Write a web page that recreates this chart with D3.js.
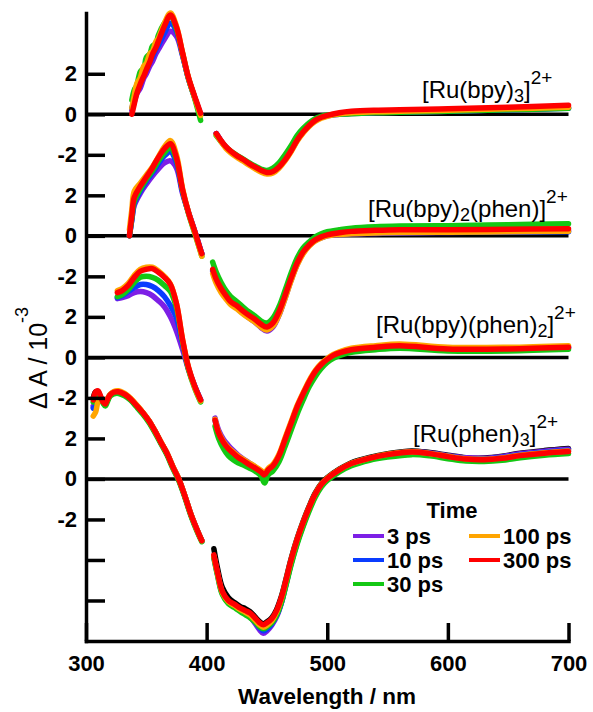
<!DOCTYPE html>
<html>
<head>
<meta charset="utf-8">
<script src="https://cdn.jsdelivr.net/npm/d3@7"></script>
<style>
  html, body { margin: 0; padding: 0; background: #fff; }
  svg { display: block; font-family: "Liberation Sans", Arial, Helvetica, sans-serif; }
</style>
</head>
<body>
<svg id="chart" width="593" height="712"></svg>
<script>
// ---- Transient absorption spectra, four Ru(II) complexes, stacked with offsets ----

const timeLabels = ["3 ps", "10 ps", "30 ps", "100 ps", "300 ps"];
const timeColors = ["#7d1fe6", "#0a3cff", "#14c814", "#ffa500", "#ff0000"];

// vertical offsets of the stacked spectra (units of 10^-3)
const panelOffsets = [18, 12, 6, 0];

const xTicks = [300, 400, 500, 600, 700];
const yTicks = [-6, -4, -2, 0, 2, 4, 6, 8, 10, 12, 14, 16, 18, 20];
const yTickLabels = ["", "", "-2", "0", "2", "-2", "0", "2", "-2", "0", "2", "-2", "0", "2"];

// [Ru(bpy)3]2+ ; null marks the scatter gap around the pump wavelength
const wlBpy3 = [338, 340, 342, 345, 348, 350, 353, 355, 358, 360, 365, 370, 375, 380, 385, 390, 395, 400,
  408, 412, 416, 420, 425, 430, 435, 440, 445, 450, 455, 460, 465, 470, 475, 480, 485, 490, 495, 500,
  510, 520, 540, 560, 600, 650, 700];
const bpy3_3ps = [0.2, 0.6, 1.0, 1.3, 1.8, 2.0, 2.4, 2.6, 3.0, 3.2, 3.7, 4.1, 3.85, 2.9, 1.75, 0.85, 0.0, null,
  -0.95, -1.32, -1.62, -1.85, -2.06, -2.25, -2.45, -2.62, -2.77, -2.85, -2.8, -2.6, -2.24, -1.8, -1.28, -0.88, -0.56, -0.31, -0.16, -0.07,
  0.0, 0.04, 0.08, 0.1, 0.15, 0.22, 0.32];
const bpy3_10ps = [0.3, 0.7, 1.1, 1.5, 2.0, 2.2, 2.6, 2.8, 3.2, 3.4, 4.0, 4.5, 4.1, 2.95, 1.75, 0.85, 0.0, null,
  -0.95, -1.32, -1.62, -1.85, -2.06, -2.24, -2.44, -2.6, -2.75, -2.82, -2.78, -2.58, -2.22, -1.78, -1.27, -0.87, -0.55, -0.3, -0.16, -0.07,
  0.02, 0.06, 0.1, 0.12, 0.16, 0.22, 0.3];
const bpy3_30ps = [0.7, 1.2, 1.4, 2.1, 2.3, 2.8, 3.0, 3.35, 3.5, 3.9, 4.5, 4.85, 4.2, 3.0, 1.75, 0.8, -0.3, null,
  -1.05, -1.35, -1.62, -1.82, -2.02, -2.2, -2.38, -2.55, -2.7, -2.78, -2.65, -2.4, -2.0, -1.55, -1.05, -0.7, -0.42, -0.22, -0.1, -0.03,
  0.0, 0.03, 0.07, 0.1, 0.15, 0.22, 0.3];
const bpy3_100ps = [0.3, 0.9, 1.5, 1.8, 2.4, 2.5, 3.0, 3.1, 3.6, 3.75, 4.5, 5.0, 4.35, 3.05, 1.8, 0.85, -0.05, null,
  -1.0, -1.35, -1.68, -1.9, -2.12, -2.3, -2.5, -2.68, -2.85, -2.95, -2.9, -2.66, -2.3, -1.85, -1.33, -0.92, -0.6, -0.36, -0.2, -0.1,
  0.02, 0.08, 0.12, 0.15, 0.2, 0.27, 0.35];
const bpy3_300ps = [0.0, 0.5, 1.0, 1.5, 1.9, 2.2, 2.6, 2.95, 3.3, 3.6, 4.35, 4.9, 4.3, 3.05, 1.8, 0.9, 0.05, null,
  -0.95, -1.3, -1.6, -1.82, -2.04, -2.22, -2.42, -2.6, -2.76, -2.87, -2.82, -2.6, -2.25, -1.8, -1.28, -0.88, -0.55, -0.3, -0.15, -0.05,
  0.08, 0.15, 0.2, 0.22, 0.27, 0.35, 0.45];

// [Ru(bpy)2(phen)]2+
const wlBpy2Phen = [336, 338, 340, 345, 350, 355, 360, 365, 370, 375, 380, 385, 390, 395, 396, 400,
  405, 408, 412, 416, 420, 425, 430, 435, 440, 445, 450, 455, 460, 465, 470, 475, 480, 485, 490, 495,
  500, 510, 520, 540, 560, 600, 650, 700];
const bpy2phen_3ps = [0.0, 0.8, 1.5, 2.1, 2.55, 2.95, 3.3, 3.6, 3.7, 3.35, 2.1, 1.15, 0.25, -0.7, -0.88, null,
  -1.75, -2.25, -2.7, -3.05, -3.35, -3.56, -3.82, -4.05, -4.26, -4.52, -4.7, -4.5, -3.92, -3.08, -2.2, -1.42, -0.85, -0.48, -0.24, -0.1,
  0.0, 0.06, 0.1, 0.12, 0.14, 0.17, 0.2, 0.25];
const bpy2phen_10ps = [0.0, 0.8, 1.6, 2.2, 2.7, 3.1, 3.55, 3.95, 4.15, 3.6, 2.2, 1.15, 0.25, -0.7, -0.88, null,
  -1.7, -2.2, -2.65, -3.0, -3.3, -3.5, -3.75, -3.98, -4.18, -4.42, -4.56, -4.36, -3.8, -3.0, -2.14, -1.38, -0.82, -0.46, -0.22, -0.08,
  0.02, 0.08, 0.12, 0.15, 0.17, 0.18, 0.19, 0.2];
const bpy2phen_30ps = [0.0, 0.9, 1.7, 2.3, 2.8, 3.2, 3.7, 4.1, 4.35, 3.75, 2.25, 1.1, 0.15, -0.8, -1.0, null,
  -1.3, -1.8, -2.3, -2.7, -3.0, -3.25, -3.5, -3.75, -3.95, -4.2, -4.3, -4.05, -3.5, -2.7, -1.85, -1.1, -0.6, -0.3, -0.05, 0.1,
  0.2, 0.3, 0.38, 0.45, 0.48, 0.5, 0.55, 0.6];
const bpy2phen_100ps = [0.3, 1.3, 2.2, 2.6, 3.0, 3.4, 3.9, 4.4, 4.7, 4.0, 2.35, 1.15, 0.2, -0.8, -1.0, null,
  -1.85, -2.35, -2.8, -3.12, -3.4, -3.6, -3.85, -4.06, -4.26, -4.5, -4.65, -4.45, -3.9, -3.1, -2.22, -1.45, -0.88, -0.5, -0.25, -0.1,
  0.0, 0.07, 0.1, 0.14, 0.16, 0.18, 0.2, 0.23];
const bpy2phen_300ps = [0.0, 1.0, 1.9, 2.45, 2.9, 3.35, 3.87, 4.3, 4.55, 3.85, 2.3, 1.15, 0.25, -0.7, -0.88, null,
  -1.65, -2.15, -2.6, -2.95, -3.25, -3.45, -3.7, -3.92, -4.12, -4.36, -4.5, -4.3, -3.75, -2.95, -2.1, -1.35, -0.8, -0.45, -0.2, -0.05,
  0.05, 0.15, 0.22, 0.27, 0.3, 0.3, 0.32, 0.35];

// [Ru(bpy)(phen)2]2+
const wlBpyPhen2 = [326, 330, 335, 340, 345, 350, 355, 360, 365, 370, 375, 380, 385, 390, 395, 400,
  407, 410, 414, 418, 422, 426, 430, 435, 440, 445, 448, 451, 455, 460, 465, 470, 475, 480, 485, 490,
  495, 500, 505, 510, 520, 540, 560, 600, 650, 700];
const bpyphen2_3ps = [2.9, 2.95, 3.05, 3.2, 3.25, 3.2, 3.05, 2.8, 2.5, 2.0, 1.3, 0.4, -0.6, -1.4, -2.1, null,
  -3.0, -3.6, -4.05, -4.35, -4.6, -4.82, -5.0, -5.2, -5.4, -5.62, -5.8, -5.58, -5.38, -4.88, -4.08, -3.28, -2.48, -1.82, -1.22, -0.72,
  -0.36, -0.1, 0.1, 0.22, 0.38, 0.5, 0.57, 0.42, 0.42, 0.5];
const bpyphen2_10ps = [2.95, 3.05, 3.25, 3.45, 3.6, 3.6, 3.5, 3.3, 3.0, 2.55, 1.95, 0.7, -0.55, -1.4, -2.1, null,
  -3.1, -3.75, -4.18, -4.5, -4.72, -4.94, -5.1, -5.3, -5.48, -5.7, -5.85, -5.62, -5.4, -4.9, -4.1, -3.3, -2.5, -1.85, -1.25, -0.75,
  -0.38, -0.12, 0.08, 0.2, 0.36, 0.48, 0.55, 0.4, 0.4, 0.48];
const bpyphen2_30ps = [3.0, 3.1, 3.35, 3.7, 3.95, 4.0, 3.95, 3.8, 3.55, 3.25, 2.45, 0.8, -0.6, -1.5, -2.2, null,
  -3.4, -4.0, -4.5, -4.85, -5.05, -5.2, -5.3, -5.45, -5.6, -5.85, -6.2, -5.8, -5.6, -5.15, -4.4, -3.6, -2.8, -2.1, -1.45, -0.95,
  -0.55, -0.25, -0.05, 0.08, 0.25, 0.38, 0.45, 0.32, 0.32, 0.4];
const bpyphen2_100ps = [3.3, 3.4, 3.65, 4.05, 4.35, 4.45, 4.45, 4.27, 4.0, 3.62, 2.65, 0.9, -0.5, -1.45, -2.15, null,
  -3.05, -3.7, -4.15, -4.45, -4.66, -4.86, -5.02, -5.2, -5.38, -5.57, -5.68, -5.48, -5.28, -4.78, -3.98, -3.18, -2.38, -1.74, -1.14, -0.65,
  -0.3, -0.05, 0.15, 0.28, 0.45, 0.58, 0.66, 0.5, 0.5, 0.58];
const bpyphen2_300ps = [3.2, 3.3, 3.55, 3.95, 4.25, 4.35, 4.38, 4.2, 3.95, 3.6, 2.65, 0.9, -0.5, -1.4, -2.1, null,
  -3.1, -3.75, -4.2, -4.5, -4.72, -4.93, -5.08, -5.28, -5.45, -5.65, -5.8, -5.55, -5.35, -4.85, -4.05, -3.25, -2.45, -1.8, -1.2, -0.7,
  -0.35, -0.1, 0.1, 0.22, 0.38, 0.5, 0.58, 0.42, 0.42, 0.5];

// [Ru(phen)3]2+
const wlPhen3 = [306, 308, 310, 312, 314, 316, 318, 320, 323, 327, 332, 337, 342, 347, 352, 357, 362, 367, 372, 377,
  382, 387, 392, 396, 400,
  406, 409, 413, 418, 423, 428, 432, 436, 440, 444, 447, 450, 454, 458, 462, 466, 470, 475, 480, 485,
  490, 495, 500, 510, 520, 535, 550, 570, 585, 600, 615, 630, 645, 660, 680, 700];
const phen3_early = [4.0, 4.3, 4.3, 4.05, 3.8, 3.72, 3.96, 4.16, 4.28, 4.3, 4.18, 3.95, 3.62, 3.28, 2.88, 2.38, 1.82, 1.28, 0.6, -0.02,
  -0.85, -1.75, -2.5, -3.05, null,
  -3.45, -4.4, -5.35, -5.85, -6.1, -6.3, -6.4, -6.55, -6.8, -7.05, -7.15, -7.05, -6.85, -6.45, -5.8, -4.9, -3.95, -2.95, -2.1, -1.35,
  -0.7, -0.24, 0.06, 0.48, 0.8, 1.06, 1.24, 1.38, 1.3, 1.17, 1.05, 1.03, 1.12, 1.27, 1.4, 1.5];
const phen3_3ps = [3.6, 3.7, 4.0, 4.02, 3.85, 3.7, 3.92, 4.14, 4.26, 4.28, 4.16, 3.93, 3.6, 3.26, 2.86, 2.36, 1.8, 1.26, 0.58, -0.04,
  -0.87, -1.77, -2.52, -3.06, null,
  -3.8, -4.65, -5.6, -6.05, -6.28, -6.5, -6.65, -6.82, -7.12, -7.45, -7.62, -7.5, -7.22, -6.8, -6.12, -5.15, -4.18, -3.15, -2.28, -1.5,
  -0.83, -0.33, 0.0, 0.44, 0.75, 1.02, 1.2, 1.34, 1.28, 1.15, 1.04, 1.02, 1.1, 1.25, 1.37, 1.46];
const phen3_10ps = [3.5, 3.6, 4.0, 4.0, 3.85, 3.7, 3.92, 4.14, 4.26, 4.28, 4.16, 3.93, 3.6, 3.26, 2.86, 2.36, 1.8, 1.26, 0.58, -0.04,
  -0.87, -1.77, -2.52, -3.06, null,
  -3.85, -4.7, -5.65, -6.1, -6.3, -6.5, -6.62, -6.78, -7.05, -7.35, -7.5, -7.4, -7.15, -6.75, -6.1, -5.15, -4.18, -3.15, -2.28, -1.5,
  -0.83, -0.34, -0.02, 0.42, 0.73, 1.0, 1.18, 1.32, 1.26, 1.12, 1.0, 0.98, 1.06, 1.2, 1.32, 1.42];
const phen3_30ps = [3.8, 4.0, 4.1, 3.95, 3.75, 3.6, 3.85, 4.08, 4.2, 4.22, 4.1, 3.88, 3.55, 3.2, 2.8, 2.3, 1.75, 1.2, 0.52, -0.1,
  -0.92, -1.82, -2.58, -3.1, null,
  -3.9, -4.75, -5.7, -6.15, -6.35, -6.55, -6.7, -6.85, -7.05, -7.3, -7.4, -7.3, -7.1, -6.72, -6.1, -5.2, -4.25, -3.22, -2.35, -1.58,
  -0.9, -0.4, -0.08, 0.35, 0.65, 0.92, 1.08, 1.2, 1.14, 1.0, 0.88, 0.86, 0.92, 1.05, 1.17, 1.25];
const phen3_100ps = [3.1, 3.3, 3.8, 3.9, 3.85, 3.75, 3.98, 4.18, 4.32, 4.35, 4.22, 3.98, 3.66, 3.3, 2.9, 2.4, 1.84, 1.3, 0.62, 0.0,
  -0.84, -1.74, -2.5, -3.05, null,
  -3.8, -4.65, -5.6, -6.05, -6.25, -6.45, -6.58, -6.72, -6.95, -7.2, -7.32, -7.22, -7.0, -6.58, -5.9, -4.98, -4.02, -3.0, -2.15, -1.4,
  -0.74, -0.26, 0.04, 0.46, 0.77, 1.03, 1.22, 1.34, 1.26, 1.12, 1.0, 0.97, 1.04, 1.17, 1.29, 1.38];
const phen3_300ps = [3.9, 4.3, 4.35, 4.1, 3.8, 3.7, 3.95, 4.15, 4.28, 4.3, 4.18, 3.95, 3.62, 3.28, 2.88, 2.38, 1.82, 1.28, 0.6, -0.02,
  -0.85, -1.75, -2.5, -3.05, null,
  -3.75, -4.6, -5.55, -6.0, -6.18, -6.38, -6.5, -6.62, -6.85, -7.1, -7.2, -7.1, -6.9, -6.5, -5.85, -4.95, -4.0, -3.0, -2.15, -1.4,
  -0.75, -0.28, 0.02, 0.45, 0.76, 1.02, 1.2, 1.33, 1.25, 1.1, 0.98, 0.95, 1.02, 1.15, 1.27, 1.35];

// complex names, split into [text, role] runs for sub/superscripts
const complexNames = [
  [["[Ru(bpy)", "n"], ["3", "sub"], ["]", "n"], ["2+", "sup"]],
  [["[Ru(bpy)", "n"], ["2", "sub"], ["(phen)]", "n"], ["2+", "sup"]],
  [["[Ru(bpy)(phen)", "n"], ["2", "sub"], ["]", "n"], ["2+", "sup"]],
  [["[Ru(phen)", "n"], ["3", "sub"], ["]", "n"], ["2+", "sup"]]
];

// ---- assembled panels ----
const panels = [
  { wl: wlBpy3, series: [bpy3_3ps, bpy3_10ps, bpy3_30ps, bpy3_100ps, bpy3_300ps], extra: null },
  { wl: wlBpy2Phen, series: [bpy2phen_3ps, bpy2phen_10ps, bpy2phen_30ps, bpy2phen_100ps, bpy2phen_300ps], extra: null },
  { wl: wlBpyPhen2, series: [bpyphen2_3ps, bpyphen2_10ps, bpyphen2_30ps, bpyphen2_100ps, bpyphen2_300ps], extra: null },
  { wl: wlPhen3, series: [phen3_3ps, phen3_10ps, phen3_30ps, phen3_100ps, phen3_300ps], extra: phen3_early }
];

// ---- layout ----
const svg = d3.select("#chart");
const x = d3.scaleLinear().domain([300, 700]).range([86, 568.5]);
const y = d3.scaleLinear().domain([-8, 23]).range([641, 13]);

const labelPos = [[422, 98], [368, 217], [376, 333], [413, 442]];

// zero lines of each stacked spectrum
svg.append("g").selectAll("line")
  .data(panelOffsets).join("line")
  .attr("x1", x(300)).attr("x2", x(700))
  .attr("y1", d => y(d)).attr("y2", d => y(d))
  .attr("stroke", "#000").attr("stroke-width", 3.5);

// spectra
const line = d3.line()
  .defined(d => d.v !== null)
  .x(d => x(d.wl))
  .y(d => y(d.v + d.off))
  .curve(d3.curveCatmullRom.alpha(0.5));

const traces = svg.append("g").attr("fill", "none")
  .attr("stroke-width", 5.5).attr("stroke-linecap", "round").attr("stroke-linejoin", "round");

panels.forEach((p, i) => {
  const off = panelOffsets[i];
  const toPts = vals => p.wl.map((w, k) => ({ wl: w, v: vals[k], off }));
  if (p.extra) {
    traces.append("path").attr("d", line(toPts(p.extra))).attr("stroke", "#000");
  }
  p.series.forEach((vals, s) => {
    traces.append("path").attr("d", line(toPts(vals))).attr("stroke", timeColors[s]);
  });
});

// axes
const axisStyle = g => {
  g.select(".domain").attr("stroke-width", 3.5).attr("stroke-linecap", "square");
  g.selectAll(".tick line").attr("stroke-width", 3.5);
  g.selectAll(".tick text").attr("font-size", 22).attr("font-weight", "bold").attr("fill", "#000");
};

svg.append("g")
  .attr("transform", `translate(${x(300)},0)`)
  .call(d3.axisLeft(y).tickValues(yTicks)
    .tickFormat((d, i) => yTickLabels[i])
    .tickSize(-19).tickSizeOuter(0).tickPadding(9))
  .call(axisStyle)
  .attr("font-family", null);

svg.append("g")
  .attr("transform", `translate(0,${y(-8)})`)
  .call(d3.axisBottom(x).tickValues(xTicks).tickFormat(d3.format("d"))
    .tickSize(-18).tickSizeOuter(0).tickPadding(14))
  .call(axisStyle)
  .attr("font-family", null);

// axis titles
svg.append("text")
  .attr("x", 327).attr("y", 704)
  .attr("text-anchor", "middle").attr("font-size", 22.5).attr("font-weight", "bold")
  .text("Wavelength / nm");

const yTitle = svg.append("text")
  .attr("transform", "translate(47,358) rotate(-90)")
  .attr("text-anchor", "middle").attr("font-size", 25);
yTitle.append("tspan").text("\u0394 A / 10");
yTitle.append("tspan").attr("font-size", 18).attr("dy", -19).text("-3");

// complex names
complexNames.forEach((runs, i) => {
  const t = svg.append("text")
    .attr("x", labelPos[i][0]).attr("y", labelPos[i][1])
    .attr("font-size", 24);
  let shift = 0;
  runs.forEach(([str, role]) => {
    const target = role === "sub" ? 4 : role === "sup" ? -14 : 0;
    t.append("tspan")
      .attr("dy", target - shift)
      .attr("font-size", role === "n" ? 24 : role === "sub" ? 18 : 19)
      .text(str);
    shift = target;
  });
});

// legend
const legend = svg.append("g").attr("font-weight", "bold").attr("font-size", 22);
legend.append("text").attr("x", 452).attr("y", 518).attr("text-anchor", "middle").text("Time");
const legendSlots = [[353, 536], [353, 560], [353, 584], [469, 536], [469, 560]];
timeLabels.forEach((lab, i) => {
  const [lx, ly] = legendSlots[i];
  legend.append("line")
    .attr("x1", lx).attr("x2", lx + 31).attr("y1", ly).attr("y2", ly)
    .attr("stroke", timeColors[i]).attr("stroke-width", 4);
  legend.append("text").attr("x", lx + 34).attr("y", ly + 7.5).text(lab);
});
</script>
</body>
</html>
